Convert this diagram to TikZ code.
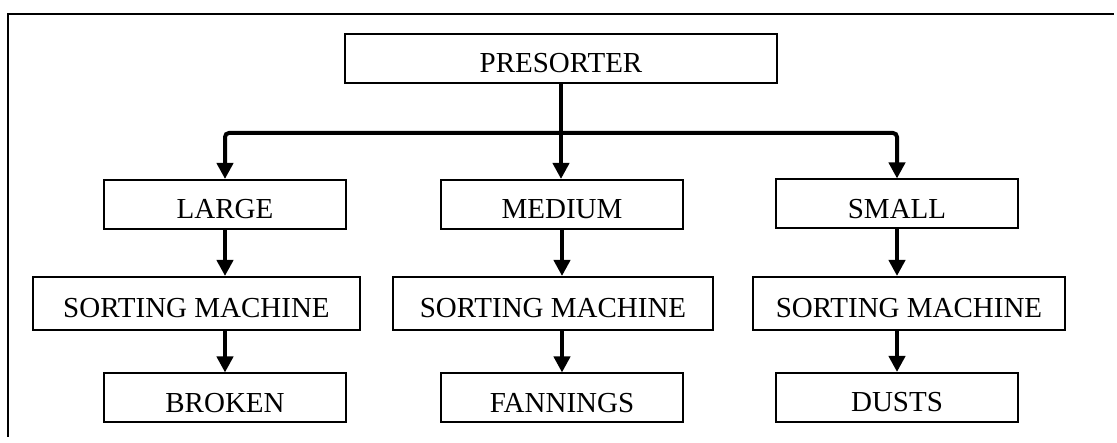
\documentclass[tikz,border=0pt]{standalone}
\usepackage{fontspec}
\setmainfont{Liberation Serif}
\usetikzlibrary{arrows.meta}
\begin{document}
\begin{tikzpicture}[x=1pt, y=-1pt, every node/.style={rectangle, draw, line width=2pt, inner sep=0pt, minimum width=242pt, minimum height=49pt, text height=29pt, text depth=0pt, font=\fontsize{29}{34}\selectfont}, sorter/.style={minimum width=320pt, minimum height=53pt}, flow/.style={->, line width=4pt}, >={Triangle[width=16pt, length=16pt]}]
        \useasboundingbox (0,0) rectangle (1117,443);
        \draw[line width=2.5pt] (8,437) -- (8,14) -- (1114,14);
        \node[minimum width=432pt] (pre) at (561,58.5) {PRESORTER};
        \node (l1) at (225,204.5) {LARGE};
        \node (m1) at (562,204.5) {MEDIUM};
        \node (r1) at (897,204) {SMALL};
        \node[sorter, minimum width=327pt] (l2) at (196.5,303.5) {SORTING MACHINE};
        \node[sorter] (m2) at (553,303.5) {SORTING MACHINE};
        \node[sorter, minimum width=312pt] (r2) at (909,303.5) {SORTING MACHINE};
        \node (l3) at (225,398) {BROKEN};
        \node (m3) at (562,398) {FANNINGS};
        \node (r3) at (897,397.5) {DUSTS};
        \coordinate (split) at (561,133);
        \draw[flow] (pre) -- (pre |- m1.north);
        \draw[flow, rounded corners=4pt] (split) -| (l1);
        \draw[flow, rounded corners=4pt] (split) -| (r1);
        \draw[flow] (l1) -- (l1 |- l2.north);
        \draw[flow] (m1) -- (m1 |- m2.north);
        \draw[flow] (r1) -- (r1 |- r2.north);
        \draw[flow] (l3 |- l2.south) -- (l3);
        \draw[flow] (m3 |- m2.south) -- (m3);
        \draw[flow] (r3 |- r2.south) -- (r3);
    \end{tikzpicture}
\end{document}
